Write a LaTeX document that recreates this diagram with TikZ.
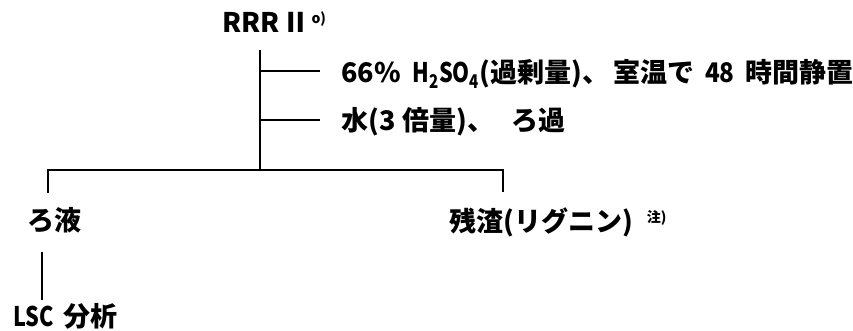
\documentclass[tikz,border=0pt]{standalone}
\usepackage{fontspec}
\setmainfont{Noto Sans CJK JP}
\usepackage{graphicx}
\newcommand{\nar}[2][0.8]{\scalebox{#1}[1]{#2}}
\newcommand{\smallsup}[1]{\raisebox{9pt}{\fontsize{14}{14}\selectfont #1}}
\begin{document}
\begin{tikzpicture}[x=1pt,y=-1pt,
  lbl/.style={anchor=base west,inner sep=0pt,font=\fontsize{27}{27}\selectfont\bfseries},
  ln/.style={line width=2.2pt,line cap=butt}]
\useasboundingbox (0,0) rectangle (853,331);
\node[lbl] (root) at (222,33) {RRR\hspace{3pt}Ⅱ\hspace{2pt}\smallsup{o)}};
\node[lbl] (step1) at (341,83) {66\%\hspace{12pt}\nar{H\textsubscript{2}SO\textsubscript{4}}(過剰量)、\hspace{4pt}室温で\hspace{11pt}\nar[0.9]{48}\hspace{11pt}時間静置};
\node[lbl] (step2) at (341,131) {水(3\hspace{7pt}倍量)、\hspace{17pt}ろ過};
\node[lbl] (filt) at (27,230) {ろ液};
\node[lbl] (resid) at (449,231) {残渣(リグニン)\hspace{14pt}\smallsup{注)}};
\node[lbl] (lsc) at (13,326) {\nar{LSC}\hspace{10pt}分析};
\coordinate (top) at (260,50);
\coordinate (split) at (260,170);
\coordinate (t1) at (260,71);
\coordinate (t1e) at (320,71);
\coordinate (t2) at (260,120);
\coordinate (t2e) at (320,120);
\coordinate (lc) at (48,170);
\coordinate (lb) at (48,193);
\coordinate (rc) at (503,170);
\coordinate (rb) at (503,192);
\coordinate (ft) at (42,252);
\coordinate (fb) at (42,300);
\draw[ln] (top) -- (split);
\draw[ln] (t1) -- (t1e);
\draw[ln] (t2) -- (t2e);
\draw[ln] (lb) -- (lc) -- (rc) -- (rb);
\draw[ln] (ft) -- (fb);
\end{tikzpicture}
\end{document}
